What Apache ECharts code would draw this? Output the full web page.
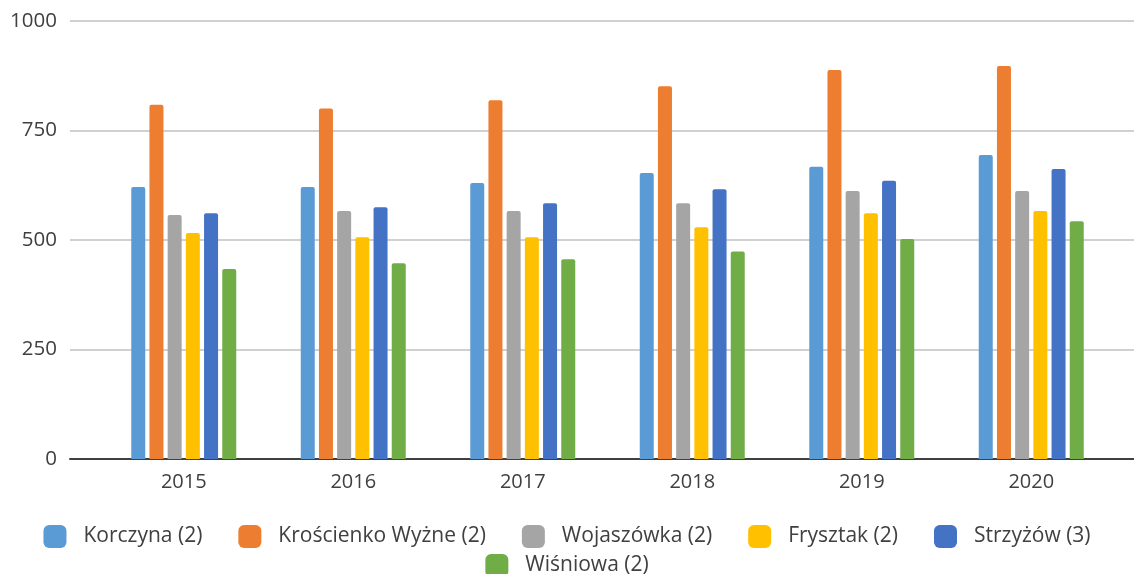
<!DOCTYPE html>
<html>
<head>
<meta charset="utf-8">
<script src="https://cdn.jsdelivr.net/npm/echarts@6/dist/echarts.min.js"></script>
<style>
  html, body { margin: 0; padding: 0; background: #fff; }
  #main { width: 1134px; height: 574px; }
</style>
</head>
<body>
<div id="main"></div>
<script>
var years = ['2015', '2016', '2017', '2018', '2019', '2020'];
var names = ['Korczyna (2)', 'Krościenko Wyżne (2)', 'Wojaszówka (2)', 'Frysztak (2)', 'Strzyżów (3)', 'Wiśniowa (2)'];
var colors = ['#5B9BD5', '#ED7D31', '#A5A5A5', '#FFC000', '#4472C4', '#70AD47'];

var korczyna   = [621, 621, 630, 653, 667, 694];
var kroscienko = [809, 800, 819, 851, 888, 897];
var wojaszowka = [557, 566, 566, 584, 612, 612];
var frysztak   = [516, 506, 506, 529, 561, 566];
var strzyzow   = [561, 575, 584, 616, 635, 662];
var wisniowa   = [434, 447, 456, 474, 502, 543];
var yTicks = [0, 250, 500, 750, 1000];

var values = [korczyna, kroscienko, wojaszowka, frysztak, strzyzow, wisniowa];
var font = 'Open Sans';

var series = names.map(function(n, i){
	return {
		name: n,
		type: 'bar',
		xAxisIndex: 1,
		yAxisIndex: 1,
		barWidth: 14,
		barGap: '30%',
		itemStyle: { color: colors[i], borderRadius: [2, 2, 0, 0] },
		data: values[i]
	};
});

var legendText = { fontFamily: font, fontSize: 21, color: '#404040', padding: [0, 0, 0, 12] };

var chart = echarts.init(document.getElementById('main'));
chart.setOption({
	animation: false,
	color: colors,
	legend: [
		{
			data: names.slice(0, 5),
			left: 'center', top: 520,
			itemWidth: 23, itemHeight: 23, itemGap: 36,
			icon: 'roundRect',
			textStyle: legendText
		},
		{
			data: names.slice(5),
			left: 'center', top: 549,
			itemWidth: 23, itemHeight: 23, itemGap: 36,
			icon: 'roundRect',
			textStyle: legendText
		}
	],
	grid: [
		{ left: 70, right: 0, top: 21, bottom: 115 },
		{ left: 99, right: 18, top: 21, bottom: 115 }
	],
	xAxis: [
		{
			type: 'category', gridIndex: 0, data: years,
			axisLine: { show: true, lineStyle: { color: '#404040', width: 2 } },
			axisTick: { show: false }, axisLabel: { show: false }
		},
		{
			type: 'category', gridIndex: 1, data: years,
			axisLine: { show: false }, axisTick: { show: false },
			axisLabel: { fontFamily: font, fontSize: 20, color: '#404040', margin: 13 }
		}
	],
	yAxis: [
		{
			type: 'value', gridIndex: 0, min: yTicks[0], max: yTicks[yTicks.length - 1], interval: 250,
			axisLine: { show: false }, axisTick: { show: false },
			axisLabel: {
				fontFamily: font, fontSize: 20.5, color: '#404040', margin: 13,
				formatter: function(v){ return String(v); }
			},
			splitLine: { lineStyle: { color: '#D0D0D0', width: 2 } }
		},
		{
			type: 'value', gridIndex: 1, min: 0, max: 1000, interval: 250, show: false
		}
	],
	series: series
});
</script>
</body>
</html>
